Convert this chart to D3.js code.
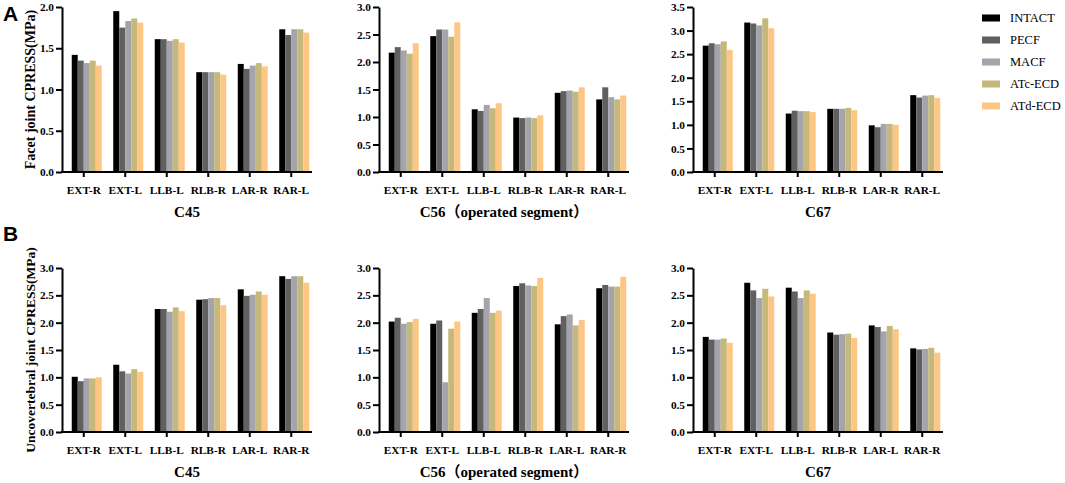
<!DOCTYPE html>
<html>
<head>
<meta charset="utf-8">
<script src="https://cdn.jsdelivr.net/npm/d3@7"></script>
<style>
  body { margin: 0; background: #fff; }
  text { font-family: "Liberation Serif", "Times New Roman", "Noto Sans CJK SC", serif; }
  .tick text { font-size: 11.3px; font-weight: bold; fill: #000; }
  .panel-title { font-size: 15px; font-weight: bold; }
  .y-title { font-weight: bold; }
  .legend text { font-size: 12.5px; }
  .letter { font-family: "Liberation Sans", Arial, sans-serif; font-size: 21px; font-weight: bold; }
</style>
</head>
<body>
<div id="wrapper"></div>
<script>
// data
const seriesNames = ["INTACT", "PECF", "MACF", "ATc-ECD", "ATd-ECD"]
const seriesColors = ["#000000", "#606060", "#a4a4ac", "#c6b87b", "#fdc684"]
const segmentNames = ["C45", "C56（operated segment）", "C67"]

const facetCategories = ["EXT-R", "EXT-L", "LLB-L", "RLB-R", "LAR-R", "RAR-L"]
const uncoCategories = ["EXT-R", "EXT-L", "LLB-L", "RLB-R", "LAR-L", "RAR-R"]

// one row per category, one value per series
const facetC45 = [
  [1.42, 1.35, 1.32, 1.35, 1.29],
  [1.95, 1.75, 1.83, 1.86, 1.81],
  [1.61, 1.61, 1.59, 1.61, 1.57],
  [1.21, 1.21, 1.21, 1.21, 1.18],
  [1.31, 1.25, 1.29, 1.32, 1.28],
  [1.73, 1.66, 1.73, 1.73, 1.69],
]
const facetC56 = [
  [2.17, 2.27, 2.21, 2.15, 2.34],
  [2.47, 2.59, 2.59, 2.46, 2.72],
  [1.14, 1.11, 1.22, 1.16, 1.25],
  [0.99, 0.98, 0.99, 0.98, 1.03],
  [1.44, 1.47, 1.48, 1.46, 1.54],
  [1.32, 1.54, 1.36, 1.32, 1.39],
]
const facetC67 = [
  [2.68, 2.73, 2.71, 2.77, 2.59],
  [3.17, 3.15, 3.11, 3.26, 3.05],
  [1.24, 1.30, 1.29, 1.29, 1.27],
  [1.34, 1.34, 1.34, 1.36, 1.31],
  [0.99, 0.95, 1.02, 1.02, 1.00],
  [1.63, 1.58, 1.62, 1.63, 1.57],
]
const uncoC45 = [
  [1.01, 0.93, 0.98, 0.98, 1.00],
  [1.23, 1.11, 1.07, 1.15, 1.10],
  [2.25, 2.25, 2.20, 2.28, 2.21],
  [2.42, 2.43, 2.45, 2.45, 2.32],
  [2.61, 2.49, 2.51, 2.57, 2.51],
  [2.85, 2.80, 2.85, 2.85, 2.73],
]
const uncoC56 = [
  [2.02, 2.09, 1.98, 2.01, 2.07],
  [1.98, 2.04, 0.91, 1.89, 2.02],
  [2.18, 2.25, 2.45, 2.18, 2.22],
  [2.67, 2.72, 2.68, 2.67, 2.82],
  [1.97, 2.12, 2.15, 1.95, 2.05],
  [2.63, 2.69, 2.66, 2.66, 2.84],
]
const uncoC67 = [
  [1.74, 1.69, 1.69, 1.71, 1.63],
  [2.73, 2.59, 2.45, 2.62, 2.48],
  [2.64, 2.57, 2.45, 2.59, 2.53],
  [1.82, 1.78, 1.79, 1.80, 1.72],
  [1.95, 1.92, 1.84, 1.94, 1.88],
  [1.53, 1.51, 1.52, 1.54, 1.45],
]

const facetYMax = [2.0, 3.0, 3.5]
const uncoYMax = [3.0, 3.0, 3.0]

// layout
const width = 1065
const height = 483
const panelLefts = [62, 379, 693]
const panelWidth = 250
const serif = "'Liberation Serif', 'Times New Roman', 'Noto Sans CJK SC', serif"
const rows = [
  { letter: "A", letterY: 21, top: 7, bottom: 172, title: "Facet joint CPRESS(MPa)", titleSize: 14,
    categories: facetCategories, data: [facetC45, facetC56, facetC67], yMax: facetYMax },
  { letter: "B", letterY: 241, top: 268, bottom: 432, title: "Uncovertebral joint CPRESS(MPa)", titleSize: 13.5,
    categories: uncoCategories, data: [uncoC45, uncoC56, uncoC67], yMax: uncoYMax },
]

const svg = d3.select("#wrapper")
  .append("svg")
    .attr("width", width)
    .attr("height", height)

const styleAxis = g => {
  g.attr("font-family", serif)
  g.selectAll("path.domain").attr("stroke", "#000").attr("stroke-width", 2)
  g.selectAll(".tick line").attr("stroke", "#000").attr("stroke-width", 2)
}

rows.forEach(row => {
  svg.append("text")
    .attr("class", "letter")
    .attr("x", 3)
    .attr("y", row.letterY)
    .text(row.letter)

  // shared y title, rotated
  svg.append("text")
    .attr("class", "y-title")
    .attr("transform", `translate(35, ${(row.top + row.bottom) / 2}) rotate(-90)`)
    .attr("text-anchor", "middle")
    .style("font-size", row.titleSize + "px")
    .text(row.title)

  row.data.forEach((panelData, p) => {
    const left = panelLefts[p]
    const g = svg.append("g")

    const xScale = d3.scaleBand()
      .domain(row.categories)
      .range([left + 1, left + panelWidth])

    const yScale = d3.scaleLinear()
      .domain([0, row.yMax[p]])
      .range([row.bottom, row.top])

    const barWidth = 6
    const groupWidth = barWidth * seriesNames.length

    // bars, sitting a little right of the tick as in the original
    row.categories.forEach((cat, i) => {
      const x0 = xScale(cat) + xScale.bandwidth() / 2 - groupWidth / 2 + 3
      panelData[i].forEach((v, s) => {
        g.append("rect")
          .attr("x", x0 + s * barWidth)
          .attr("y", yScale(v))
          .attr("width", barWidth)
          .attr("height", yScale(0) - yScale(v))
          .attr("fill", seriesColors[s])
      })
    })

    // axes
    const yTicks = d3.range(0, row.yMax[p] + 0.001, 0.5)
    const yAxis = g.append("g")
      .attr("transform", `translate(${left}, 0)`)
      .call(d3.axisLeft(yScale).tickValues(yTicks).tickFormat(d3.format(".1f"))
        .tickSize(6).tickSizeOuter(0).tickPadding(2))
    styleAxis(yAxis)

    const xAxis = g.append("g")
      .attr("transform", `translate(0, ${row.bottom})`)
      .call(d3.axisBottom(xScale).tickSize(5).tickSizeOuter(0).tickPadding(9))
    xAxis.select("path.domain").attr("d", `M${left - 1},0H${left + panelWidth}`)
    styleAxis(xAxis)

    g.append("text")
      .attr("class", "panel-title")
      .attr("x", left + panelWidth / 2)
      .attr("y", row.bottom + 45)
      .attr("text-anchor", "middle")
      .text(segmentNames[p])
  })
})

// legend
const legend = svg.append("g").attr("class", "legend")
seriesNames.forEach((name, i) => {
  const y = 18 + i * 22
  legend.append("rect")
    .attr("x", 982)
    .attr("y", y - 3.5)
    .attr("width", 18)
    .attr("height", 7)
    .attr("fill", seriesColors[i])
  legend.append("text")
    .attr("x", 1010)
    .attr("y", y)
    .attr("dy", "0.35em")
    .text(name)
})
</script>
</body>
</html>
